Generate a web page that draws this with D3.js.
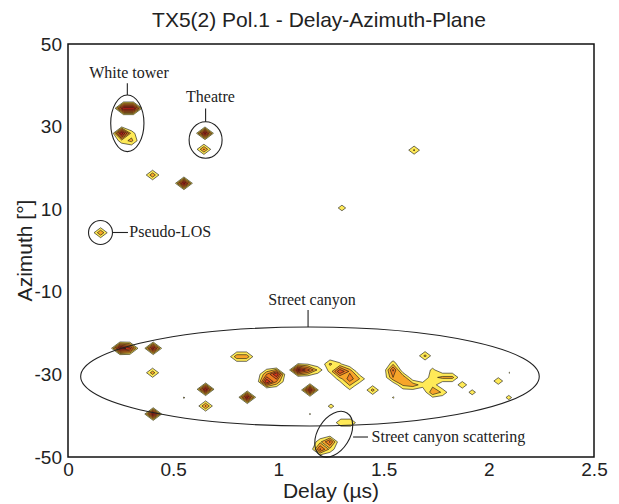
<!DOCTYPE html>
<html><head><meta charset="utf-8">
<script src="https://cdn.jsdelivr.net/npm/d3@7"></script>
<style>body{margin:0;background:#fff}</style>
</head><body><svg id="c" width="619" height="504"></svg>
<script>
// ---- data ----
const xTicks = [0, 0.5, 1, 1.5, 2, 2.5];
const xTickLabels = ["0", "0.5", "1", "1.5", "2", "2.5"];
const yTicks = [50, 30, 10, -10, -30, -50];
const yTickLabels = ["50", "30", "10", "-10", "-30", "-50"];

// contour blobs: anchor delay (µs), anchor azimuth (°), cells [col, row(up), power level]
const blobDelay   = [0.264, 0.255, 0.651, 0.646, 0.402, 0.551, 0.155, 1.645, 1.302,
                     0.247, 0.405, 0.402, 0.405, 0.802, 0.654, 0.654, 0.551, 0.852,
                     0.944, 1.093, 1.245, 1.545, 1.697, 1.546, 1.448, 1.250, 1.150,
                     2.045, 2.098, 2.095, 1.198, 1.297, 1.150];
const blobAzimuth = [34.43, 28.38, 28.38, 24.5, 18.28, 16.27, 4.31, 24.3, 10.3,
                     -23.68, -23.68, -29.6, -39.6, -25.7, -33.6, -37.65, -35.64, -35.54,
                     -31.76, -28.93, -27.48, -28.93, -25.5, -35.6, -33.8, -37.7, -39.6,
                     -31.6, -29.6, -35.6, -48.13, -41.68, -33.78];
const blobCells = [
  [[0,0,6.8],[1,0,6.8]],
  [[0,0,6.8],[1,-1,2.3],[1,0,1.5],[0,-1,1.5]],
  [[0,0,6.8]],
  [[0,0,3.2]],
  [[0,0,2.8]],
  [[0,0,6.8]],
  [[0,0,3.0]],
  [[0,0,2.2]],
  [[0,0,1.6]],
  [[0,0,6.8],[1,0,5.5]],
  [[0,0,6.5]],
  [[0,0,2.6]],
  [[0,0,6.8]],
  [[0,0,2.7],[1,0,2.7]],
  [[0,0,6.8]],
  [[0,0,3.2]],
  [[0,0,1.1]],
  [[0,0,6.5]],
  [[0,0,6.0],[1,1,6.0],[1,0,3.0],[0,1,3.0]],
  [[0,0,6.5],[1,0,4.5],[2,0,1.8]],
  [[0,0,2.2],[1,-1,5.0],[2,-1,2.8],[2,-2,3.6],[1,-2,1.5],[3,-2,2.0],[2,-3,1.8],[0,-1,1.2],[1,0,1.2]],
  [[0,1,1.3],[0,0,4.2],[0,-1,3.0],[1,-1,2.8],[1,-2,2.2],[2,-2,2.6],[3,-2,1.5],[4,-3,2.9],[5,-3,1.8],
   [4,-2,1.6],[4,-1,1.7],[4,0,1.3],[5,-1,2.3],[6,-1,2.3],[7,-2,1.8],[8,-3,1.5]],
  [[0,0,2.3]],
  [[0,0,1.1]],
  [[0,0,2.4]],
  [[0,0,1.4]],
  [[0,0,1.08]],
  [[0,0,1.8]],
  [[0,0,1.06]],
  [[0,0,1.4]],
  [[0,0,4.2],[1,1,4.2],[1,0,1.7],[0,1,1.7]],
  [[0,0,1.9],[1,0,1.9]],
  [[0,0,6.5]]
];
const levels = [1, 2, 3, 4, 5, 6];
const levelColors = ["#FFEA57", "#F7A52A", "#EF7F22", "#E4581F", "#D8381C", "#C8201B"];
const DX = 0.047, DY = 1.8;   // grid step of the delay-azimuth estimate

// annotations
const ellipseLabels = ["White tower", "Theatre", "Pseudo-LOS", "Street canyon", "Street canyon scattering"];

// ---- layout ----
const svg = d3.select("#c");
const L = 68, R = 594, T = 44, B = 457;
const x = d3.scaleLinear().domain([0, 2.5]).range([L, R]);
const y = d3.scaleLinear().domain([-50, 50]).range([B, T]);
const sans = "'Liberation Sans', Arial, sans-serif";
const serif = "'Liberation Serif', 'Times New Roman', serif";

// title
svg.append("text").attr("x", 319).attr("y", 27).attr("text-anchor", "middle")
  .attr("font-family", sans).attr("font-size", 21).attr("fill", "#222")
  .text("TX5(2) Pol.1 - Delay-Azimuth-Plane");

// axes (labels only)
const gx = svg.append("g").attr("transform", `translate(0,${B})`)
  .call(d3.axisBottom(x).tickValues(xTicks).tickFormat((d, i) => xTickLabels[i]).tickSize(0).tickPadding(6));
const gy = svg.append("g").attr("transform", `translate(${L},0)`)
  .call(d3.axisLeft(y).tickValues(yTicks).tickFormat((d, i) => yTickLabels[i]).tickSize(0).tickPadding(6));
[gx, gy].forEach(g => {
  g.select(".domain").remove();
  g.selectAll("text").attr("font-family", sans).attr("font-size", 19).attr("fill", "#222");
});

svg.append("text").attr("x", (L + R) / 2).attr("y", 498).attr("text-anchor", "middle")
  .attr("font-family", sans).attr("font-size", 21).attr("fill", "#222").text("Delay (µs)");
svg.append("text").attr("transform", `translate(32,${(T + B) / 2}) rotate(-90)`).attr("text-anchor", "middle")
  .attr("font-family", sans).attr("font-size", 21).attr("fill", "#222").text("Azimuth [°]");

// ---- contours ----
const gC = svg.append("g");
blobCells.forEach((cells, k) => {
  const cmin = d3.min(cells, c => c[0]) - 1, cmax = d3.max(cells, c => c[0]) + 1;
  const rmin = d3.min(cells, c => c[1]) - 1, rmax = d3.max(cells, c => c[1]) + 1;
  const w = cmax - cmin + 1, h = rmax - rmin + 1;
  const vals = new Array(w * h).fill(0);
  cells.forEach(([c, r, v]) => {
    const idx = (rmax - r) * w + (c - cmin);
    vals[idx] = Math.max(vals[idx], v);
  });
  const cs = d3.contours().size([w, h]).thresholds(levels)(vals);
  const proj = d3.geoTransform({
    point(px, py) {
      const d = blobDelay[k] + (px - 0.5 + cmin) * DX;
      const a = blobAzimuth[k] + (rmax - (py - 0.5)) * DY;
      this.stream.point(x(d), y(a));
    }
  });
  const path = d3.geoPath(proj);
  gC.selectAll(null).data(cs.filter(c => c.coordinates.length)).enter().append("path")
    .attr("d", path)
    .attr("fill", d => levelColors[levels.indexOf(d.value)])
    .attr("stroke", "#111").attr("stroke-width", 0.6).attr("stroke-linejoin", "round");
});

// ---- annotations ----
const gA = svg.append("g").attr("fill", "none").attr("stroke", "#222").attr("stroke-width", 1.1);
function ell(cx, cy, rx, ry) {
  gA.append("ellipse").attr("cx", x(cx)).attr("cy", y(cy))
    .attr("rx", x(rx) - x(0)).attr("ry", y(0) - y(ry));
}
function seg(d1, a1, d2, a2) {
  gA.append("line").attr("x1", x(d1)).attr("y1", y(a1)).attr("x2", x(d2)).attr("y2", y(a2));
}
function lab(t, d, a, anchor) {
  svg.append("text").attr("x", x(d)).attr("y", y(a)).attr("text-anchor", anchor)
    .attr("font-family", serif).attr("font-size", 16).attr("fill", "#222").text(t);
}
// White tower
ell(0.282, 30.8, 0.079, 6.85);
seg(0.282, 40.5, 0.282, 37.65);
lab(ellipseLabels[0], 0.290, 41.77, "middle");
// Theatre
ell(0.654, 26.76, 0.0784, 4.43);
seg(0.654, 34.4, 0.654, 31.19);
lab(ellipseLabels[1], 0.561, 35.96, "start");
// Pseudo-LOS
ell(0.1545, 4.36, 0.057, 2.9);
seg(0.2115, 4.36, 0.285, 4.36);
lab(ellipseLabels[2], 0.2914, 3.2, "start");
// Street canyon
ell(1.150, -30.5, 1.0898, 11.99);
seg(1.141, -14.4, 1.141, -18.51);
lab(ellipseLabels[3], 1.160, -13.2, "middle");
// Street canyon scattering
gA.append("ellipse").attr("transform", `translate(${x(1.263)},${y(-44.48)}) rotate(-58)`)
  .attr("rx", x(0.119) - x(0)).attr("ry", x(0.076) - x(0));
seg(1.355, -45.16, 1.426, -45.16);
lab(ellipseLabels[4], 1.443, -46.37, "start");

// frame
svg.append("rect").attr("x", L).attr("y", T).attr("width", R - L).attr("height", B - T)
  .attr("fill", "none").attr("stroke", "#111").attr("stroke-width", 1.5);
</script></body></html>
